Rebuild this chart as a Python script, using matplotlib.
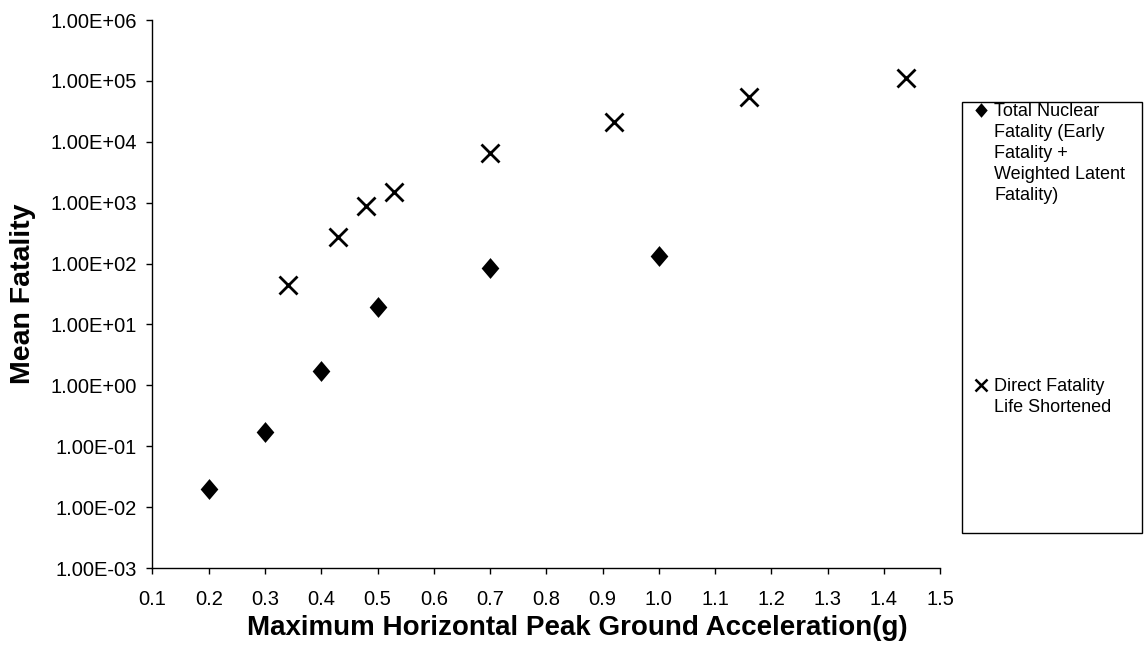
import matplotlib
matplotlib.use("Agg")
import matplotlib.pyplot as plt
from matplotlib.patches import Rectangle
from matplotlib.lines import Line2D
from matplotlib.ticker import FixedLocator, FuncFormatter, NullLocator

plt.rcParams['font.family'] = ['Liberation Sans', 'DejaVu Sans']

# peak ground acceleration (g) vs mean fatality
nuclear_pga = [0.2, 0.3, 0.4, 0.5, 0.7, 1.0]
nuclear_fatality = [0.02, 0.17, 1.7, 19.5, 86, 133]

direct_pga = [0.34, 0.43, 0.48, 0.53, 0.70, 0.92, 1.16, 1.44]
direct_fatality = [44, 275, 880, 1510, 6600, 21000, 55000, 112000]

nuclear_label = "Total Nuclear\nFatality (Early\nFatality +\nWeighted Latent\nFatality)"
direct_label = "Direct Fatality\nLife Shortened"

x_ticks = [0.1 * i for i in range(1, 16)]
y_ticks = [10.0 ** e for e in range(-3, 7)]

# excel-like diamond, a bit taller than wide
diamond = [(0, 1), (0.85, 0), (0, -1), (-0.85, 0), (0, 1)]

fig = plt.figure(figsize=(11.44, 6.46), dpi=100)
ax = fig.add_axes([0.1333, 0.1207, 0.6884, 0.8483])

ax.plot(nuclear_pga, nuclear_fatality, linestyle='none', marker=diamond,
        markersize=15, color='black', markeredgewidth=0)
ax.plot(direct_pga, direct_fatality, linestyle='none', marker='x',
        markersize=12.5, color='black', markeredgewidth=2.0)

ax.set_yscale('log')
ax.set_ylim(1e-3, 1e6)
ax.set_xlim(0.1, 1.5)
ax.yaxis.set_major_locator(FixedLocator(y_ticks))
ax.yaxis.set_minor_locator(NullLocator())
ax.yaxis.set_major_formatter(FuncFormatter(lambda v, p: f"{v:.2E}"))
ax.xaxis.set_major_locator(FixedLocator(x_ticks))
ax.xaxis.set_major_formatter(FuncFormatter(lambda v, p: f"{v:.1f}"))

for side in ['top', 'right']:
    ax.spines[side].set_visible(False)
for side in ['left', 'bottom']:
    ax.spines[side].set_linewidth(1.0)
ax.tick_params(axis='both', direction='out', length=4, width=1,
               labelsize=14.5, colors='black')
ax.tick_params(axis='y', pad=7)
ax.tick_params(axis='x', pad=12)

fig.text(577 / 1144, 11 / 646, "Maximum Horizontal Peak Ground Acceleration(g)",
         ha='center', va='baseline', fontsize=20, fontweight='bold')
fig.text(23 / 1144, 352 / 646, "Mean Fatality", rotation=90,
         ha='center', va='center', fontsize=20.5, fontweight='bold')

# legend box on the right
W, H = 1144, 646
fig.patches.append(Rectangle((962 / W, 1 - 533 / H), 180 / W, 431 / H,
                             transform=fig.transFigure, facecolor='white',
                             edgecolor='black', linewidth=1.0))
entries = [
    (diamond, 10.5, 0, nuclear_label, 110),
    ('x', 8.5, 1.8, direct_label, 385),
]
for mk, ms, mew, label, ypix in entries:
    fig.add_artist(Line2D([981 / W], [1 - ypix / H], transform=fig.transFigure,
                          marker=mk, markersize=ms, markeredgewidth=mew,
                          color='black', linestyle='none'))
    fig.text(994 / W, 1 - (ypix - 7) / H, label, ha='left', va='top',
             fontsize=13, linespacing=1.31)

fig.savefig("out.png", dpi=100)
